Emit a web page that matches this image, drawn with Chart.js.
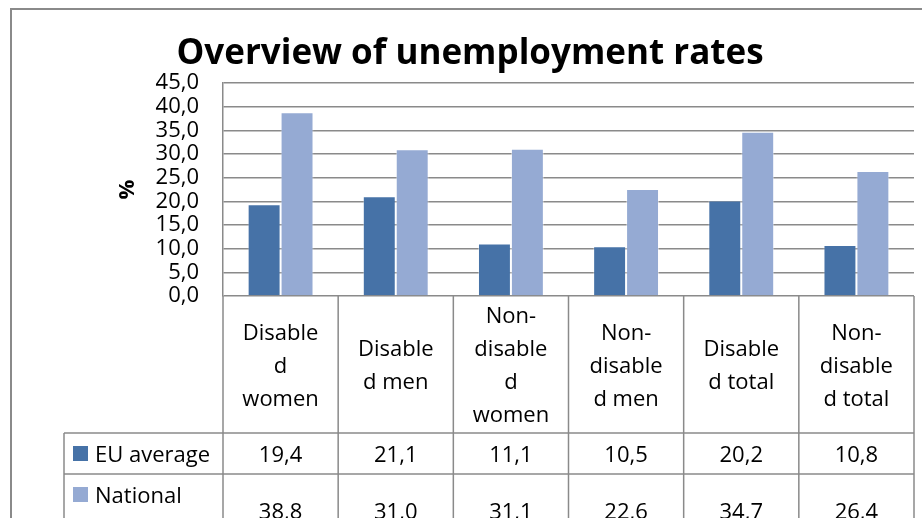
<!DOCTYPE html>
<html lang="en">
<head>
    <meta charset="UTF-8">
    <title>Overview of unemployment rates</title>
    <style>
        html, body { margin: 0; padding: 0; background: #fff; }
        .chart-box { width: 922px; height: 518px; position: relative; }
    </style>
</head>
<body>
    <div class="chart-box">
        <canvas id="unemployment-chart"></canvas>
    </div>

    <script src="https://cdn.jsdelivr.net/npm/chart.js"></script>
    <script>
        // data
        const categories = [
            ['Disable', 'd', 'women'],
            ['Disable', 'd men'],
            ['Non-', 'disable', 'd', 'women'],
            ['Non-', 'disable', 'd men'],
            ['Disable', 'd total'],
            ['Non-', 'disable', 'd total']
        ];
        const euAverage = [19.4, 21.1, 11.1, 10.5, 20.2, 10.8];
        const national = [38.8, 31.0, 31.1, 22.6, 34.7, 26.4];
        const seriesNames = [['EU average'], ['National', 'average']];
        const yTicks = [0, 5, 10, 15, 20, 25, 30, 35, 40, 45];

        const darkBlue = '#4672a7';
        const lightBlue = '#95aad3';
        const lineGray = '#8a8a8a';
        const fontFamily = "'Open Sans', 'Noto Sans', sans-serif";

        const fmt = v => v.toFixed(1).replace('.', ',');

        // draws the frame and the data table under the plot
        const dataTablePlugin = {
            id: 'dataTable',
            afterDraw(chart) {
                const ctx = chart.ctx;
                const area = chart.chartArea;
                const x = chart.scales.x;
                const half = (x.getPixelForValue(1) - x.getPixelForValue(0)) / 2;
                const bottom = chart.height + 10;

                ctx.save();
                ctx.strokeStyle = lineGray;
                ctx.lineWidth = 2;

                // outer chart frame
                ctx.beginPath();
                ctx.moveTo(11, bottom);
                ctx.lineTo(11, 9);
                ctx.lineTo(chart.width + 5, 9);
                ctx.stroke();

                ctx.lineWidth = 1.5;
                ctx.beginPath();
                for (let i = 0; i <= categories.length; i++) {
                    const bx = x.getPixelForValue(i) - half;
                    ctx.moveTo(bx, area.bottom);
                    ctx.lineTo(bx, bottom);
                }
                // rows of the table
                const rowTops = [433, 474];
                rowTops.forEach(y => {
                    ctx.moveTo(64, y);
                    ctx.lineTo(area.right, y);
                });
                ctx.moveTo(64, rowTops[0]);
                ctx.lineTo(64, bottom);
                ctx.stroke();

                ctx.fillStyle = '#000';
                ctx.font = '22px ' + fontFamily;
                ctx.textAlign = 'center';
                ctx.textBaseline = 'alphabetic';
                const lineH = 33;
                const capOff = 8;

                // category labels
                const labelMid = (area.bottom + rowTops[0]) / 2;
                categories.forEach((lines, i) => {
                    const cx = x.getPixelForValue(i);
                    const y0 = labelMid - (lines.length - 1) * lineH / 2;
                    lines.forEach((t, j) => ctx.fillText(t, cx, y0 + j * lineH + capOff));
                });

                // series rows
                const rows = [
                    { data: euAverage, color: darkBlue, mid: 453.5, first: 453.5 },
                    { data: national, color: lightBlue, mid: 511, first: 494.5 }
                ];
                rows.forEach((row, r) => {
                    ctx.fillStyle = row.color;
                    ctx.fillRect(73, row.first - 7.5, 15, 15);
                    ctx.fillStyle = '#000';
                    ctx.textAlign = 'left';
                    seriesNames[r].forEach((t, j) => ctx.fillText(t, 95, row.first + j * lineH + capOff));
                    ctx.textAlign = 'center';
                    row.data.forEach((v, i) => ctx.fillText(fmt(v), x.getPixelForValue(i), row.mid + capOff));
                });
                ctx.restore();
            }
        };

        new Chart(document.getElementById('unemployment-chart'), {
            type: 'bar',
            data: {
                labels: categories,
                datasets: [
                    { label: seriesNames[0].join(' '), data: euAverage, backgroundColor: darkBlue, borderColor: 'rgba(255,255,255,0.35)', borderWidth: 1 },
                    { label: seriesNames[1].join(' '), data: national, backgroundColor: lightBlue, borderColor: 'rgba(255,255,255,0.45)', borderWidth: 1 }
                ]
            },
            options: {
                responsive: true,
                maintainAspectRatio: false,
                animation: false,
                datasets: { bar: { categoryPercentage: 0.572, barPercentage: 1 } },
                layout: { padding: { left: 26, right: 8, top: 0, bottom: 222 } },
                plugins: {
                    legend: { display: false },
                    tooltip: { enabled: false },
                    title: {
                        display: true,
                        text: 'Overview of unemployment rates',
                        color: '#000',
                        font: { family: fontFamily, size: 35, weight: 'bold', lineHeight: 1.2 },
                        padding: { top: 33, bottom: 8 }
                    }
                },
                scales: {
                    x: { display: false },
                    y: {
                        min: 0,
                        max: 45,
                        afterBuildTicks: s => { s.ticks = yTicks.map(v => ({ value: v })); },
                        afterFit: s => { s.width = 197; },
                        ticks: {
                            color: '#000',
                            padding: 24,
                            autoSkip: false,
                            font: { family: fontFamily, size: 22 },
                            callback: v => fmt(v)
                        },
                        grid: { color: lineGray, lineWidth: 1.5, drawTicks: false },
                        border: { color: lineGray, width: 1.5 },
                        title: {
                            display: true,
                            text: '%',
                            color: '#000',
                            font: { family: fontFamily, size: 22, weight: 'bold' },
                            padding: { top: 89, bottom: 0 }
                        }
                    }
                }
            },
            plugins: [dataTablePlugin]
        });
    </script>
</body>
</html>
